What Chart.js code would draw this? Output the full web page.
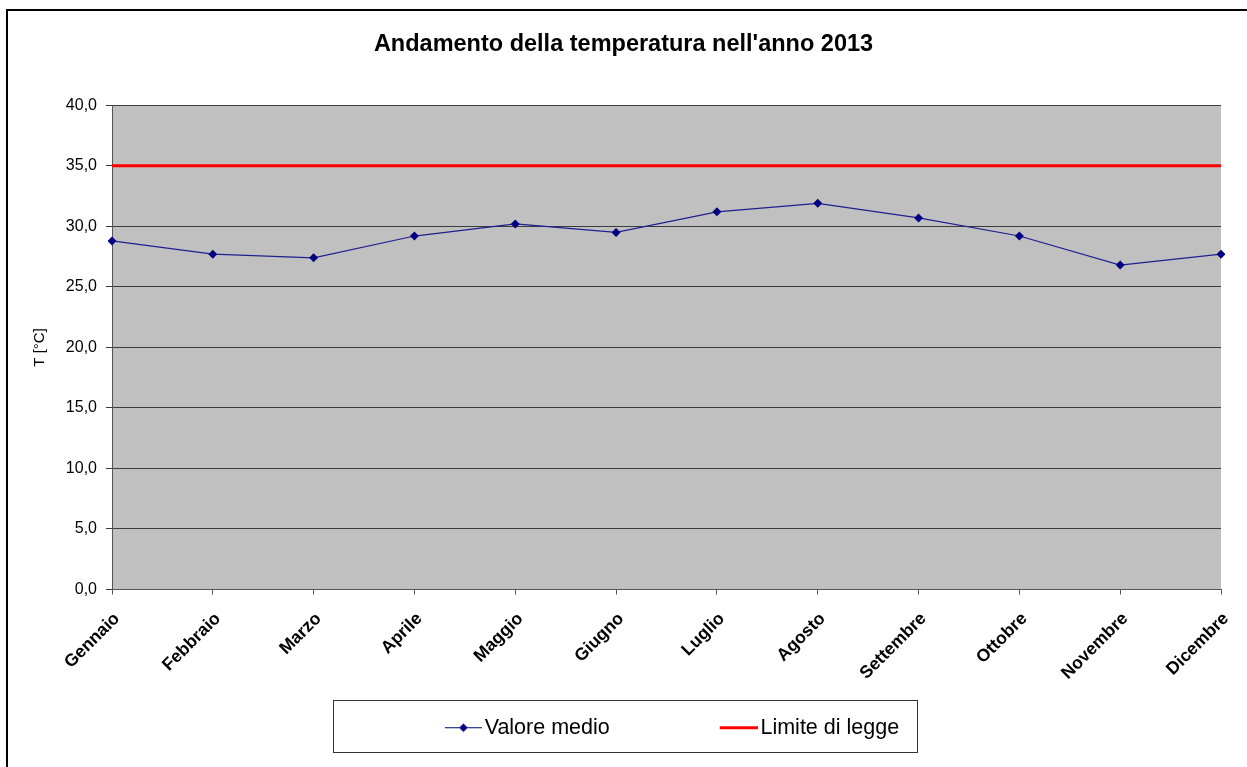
<!DOCTYPE html>
<html><head><meta charset="utf-8">
<script src="https://cdn.jsdelivr.net/npm/chart.js@4.4.0/dist/chart.umd.min.js"></script>
<style>
html,body{margin:0;padding:0;background:#fff;overflow:hidden}
#wrap{position:relative;width:1247px;height:767px}
#frame{position:absolute;left:6px;top:9px;width:1280px;height:800px;border:2px solid #000;box-sizing:border-box;pointer-events:none}
canvas{position:absolute;left:0;top:0}
</style></head><body>
<div id="wrap"><canvas id="c" width="1247" height="767"></canvas><div id="frame"></div></div>
<script>
const titleText = "Andamento della temperatura nell'anno 2013";
const yAxisTitle = "T [°C]";
const months = ["Gennaio","Febbraio","Marzo","Aprile","Maggio","Giugno","Luglio","Agosto","Settembre","Ottobre","Novembre","Dicembre"];
const valoreMedio = [28.8, 27.7, 27.4, 29.2, 30.2, 29.5, 31.2, 31.9, 30.7, 29.2, 26.8, 27.7];
const limiteLegge = [35, 35, 35, 35, 35, 35, 35, 35, 35, 35, 35, 35];
const seriesNames = ["Valore medio", "Limite di legge"];
const yMin = 0, yMax = 40, yStep = 5;

const FONT = "'Liberation Sans', Arial, sans-serif";
const BOXW = 126;
function legendImg(kind){
  const W = BOXW + 16, H = 15;
  const c = document.createElement('canvas'); c.width = W; c.height = H;
  const g = c.getContext('2d');
  if (kind === 0){
    g.strokeStyle = '#000080'; g.lineWidth = 1;
    g.beginPath(); g.moveTo(W-37, 7.5); g.lineTo(W, 7.5); g.stroke();
    const cx = W - 18.5, cy = 7.5, r = 4.3;
    g.fillStyle = '#000080';
    g.beginPath(); g.moveTo(cx, cy-r); g.lineTo(cx+r, cy); g.lineTo(cx, cy+r); g.lineTo(cx-r, cy); g.closePath(); g.fill();
  } else {
    g.strokeStyle = '#ff0000'; g.lineWidth = 3;
    g.beginPath(); g.moveTo(W-38, 7.5); g.lineTo(W, 7.5); g.stroke();
  }
  return c;
}

const plotBg = {
  id: 'plotBg',
  beforeDraw(chart){
    const {ctx, chartArea: a} = chart;
    ctx.save(); ctx.fillStyle = '#c0c0c0';
    ctx.fillRect(a.left, a.top, a.right - a.left, a.bottom - a.top);
    ctx.restore();
  },
  afterDraw(chart){
    const ctx = chart.ctx;
    ctx.save(); ctx.strokeStyle = '#333'; ctx.lineWidth = 1;
    ctx.strokeRect(333.5, 700.5, 584, 52);
    ctx.restore();
  }
};

new Chart(document.getElementById('c'), {
  type: 'line',
  data: {
    labels: months,
    datasets: [
      { label: seriesNames[0], data: valoreMedio, borderColor: '#1f1f8f', borderWidth: 1.2,
        pointStyle: 'rectRot', pointRadius: 4.5, pointBackgroundColor: '#000080', pointBorderColor: '#000080',
        pointBorderWidth: 0, tension: 0, fill: false, order: 1 },
      { label: seriesNames[1], data: limiteLegge, borderColor: '#ff0000', borderWidth: 3,
        pointRadius: 0, tension: 0, fill: false, order: 2 }
    ]
  },
  options: {
    responsive: false, animation: false, devicePixelRatio: 1,
    layout: { padding: { left: 26, right: 26, top: 0, bottom: 18.5 } },
    plugins: {
      title: { display: true, text: titleText, color: '#000',
        font: { family: FONT, size: 23.5, weight: 'bold' }, padding: { top: 30, bottom: 47.1 } },
      legend: {
        position: 'bottom',
        labels: {
          usePointStyle: true, pointStyleWidth: BOXW, padding: 14, color: '#000',
          font: { family: FONT, size: 21.5 },
          generateLabels(chart){
            return seriesNames.map((n, i) => ({ text: n, pointStyle: legendImg(i), datasetIndex: i,
              hidden: false, lineWidth: 0, fillStyle: 'rgba(0,0,0,0)', strokeStyle: 'rgba(0,0,0,0)', fontColor: '#000' }));
          }
        }
      },
      tooltip: { enabled: false }
    },
    scales: {
      x: {
        offset: false,
        grid: { display: true, drawOnChartArea: false, drawTicks: true, tickLength: 5, color: '#555' },
        border: { display: true, color: '#555', width: 1 },
        ticks: { color: '#000', font: { family: FONT, size: 17.5, weight: 'bold' }, maxRotation: 45, minRotation: 45, autoSkip: false, padding: 14, labelOffset: 5 },
        afterFit(s){ s.height = 113.5; s.paddingLeft = 0; s.paddingRight = 0; }
      },
      y: {
        min: yMin, max: yMax,
        grid: { color: '#3c3c3c', lineWidth: 1, tickLength: 6, drawTicks: true },
        border: { display: true, color: '#555', width: 1 },
        ticks: { stepSize: yStep, color: '#000', padding: 9, font: { family: FONT, size: 16 },
          callback: v => v.toFixed(1).replace('.', ',') },
        title: { display: true, text: yAxisTitle, color: '#000', font: { family: FONT, size: 15 }, padding: { top: 5, bottom: 0 } },
        afterFit(s){ s.width = 86; }
      }
    }
  },
  plugins: [plotBg]
});
</script>
</body></html>
